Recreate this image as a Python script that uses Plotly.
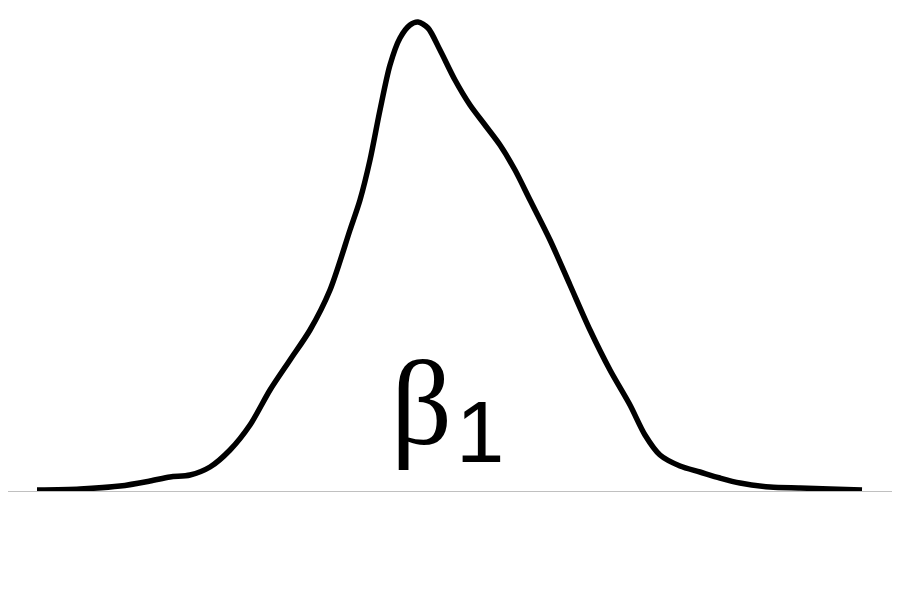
import plotly.graph_objects as go

# density curve (x position, density height)
x_vals = [31, 74, 114, 144, 164, 184, 204, 224, 244, 264, 284, 304, 324, 344, 354, 364, 374,
          384, 394, 404, 412, 422, 434, 449, 464, 479, 494, 509, 524, 544, 564, 584, 604,
          624, 639, 654, 674, 694, 714, 734, 764, 794, 824, 856]
density = [1, 2, 5, 10, 14, 16, 24, 41, 66, 101, 131, 161, 201, 261, 291, 331, 381,
           426, 453, 466, 469, 463, 441, 411, 386, 366, 346, 321, 291, 251, 206, 161, 121,
           86, 56, 36, 25, 19, 13, 8, 4, 3, 2, 1]
label_main = "β"
label_sub = "1"

fig = go.Figure()
fig.add_trace(go.Scatter(x=x_vals, y=density, mode="lines",
                         line=dict(color="black", width=5.5, shape="spline", smoothing=0.8),
                         hoverinfo="skip"))

fig.add_annotation(x=415, y=88, xref="x", yref="y", text=label_main, showarrow=False,
                   font=dict(family="Liberation Serif", size=120, color="black"),
                   xanchor="center", yanchor="middle")
fig.add_annotation(x=474, y=60, xref="x", yref="y", text=label_sub, showarrow=False,
                   font=dict(family="Liberation Sans", size=87, color="black"),
                   xanchor="center", yanchor="middle")

fig.update_layout(
    width=900, height=600,
    margin=dict(l=0, r=15, t=0, b=117),
    paper_bgcolor="white", plot_bgcolor="white",
    showlegend=False,
    xaxis=dict(range=[2, 887], showgrid=False, zeroline=False, showticklabels=False,
               ticks="", showline=True, linecolor="#c0c0c0", linewidth=1),
    yaxis=dict(range=[0, 483], showgrid=False, zeroline=False, showticklabels=False,
               ticks="", showline=False),
)
fig.write_html("out.html")
